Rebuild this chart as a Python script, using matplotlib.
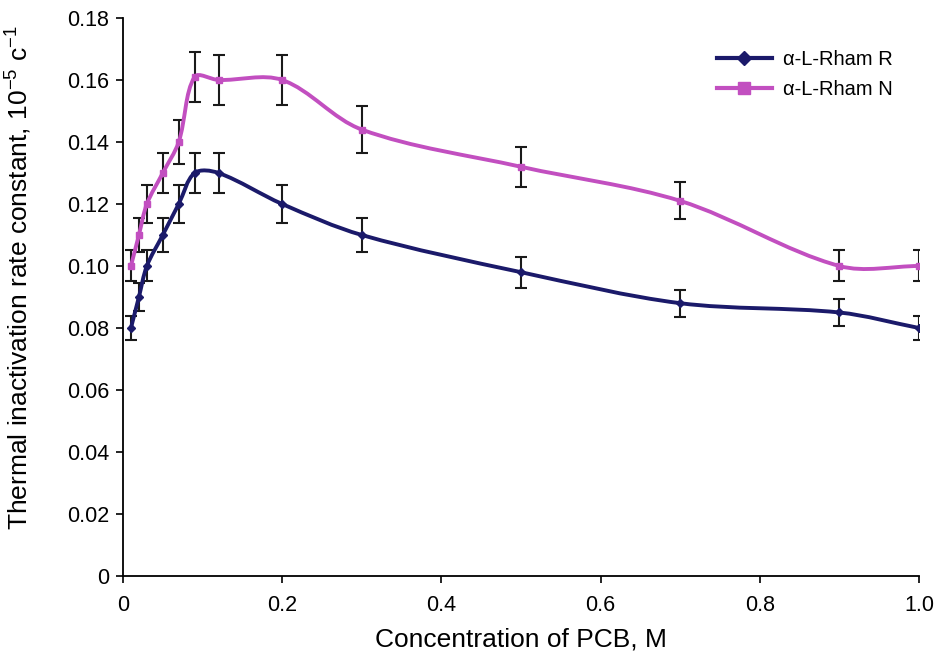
import matplotlib
matplotlib.use('Agg')
import matplotlib.pyplot as plt
from matplotlib.path import Path
from matplotlib.patches import PathPatch
from matplotlib.lines import Line2D
import numpy as np

plt.rcParams['font.family'] = ['Liberation Sans', 'DejaVu Sans']
plt.rcParams['mathtext.default'] = 'regular'

conc = [0.01, 0.02, 0.03, 0.05, 0.07, 0.09, 0.12, 0.2, 0.3, 0.5, 0.7, 0.9, 1.0]
rham_r = [0.080, 0.090, 0.100, 0.110, 0.120, 0.130, 0.130, 0.120, 0.110, 0.098, 0.088, 0.085, 0.080]
rham_r_err = [0.004, 0.0045, 0.005, 0.0055, 0.006, 0.0065, 0.0065, 0.006, 0.0055, 0.005, 0.0044, 0.0043, 0.004]
rham_n = [0.100, 0.110, 0.120, 0.130, 0.140, 0.161, 0.160, 0.160, 0.144, 0.132, 0.121, 0.100, 0.100]
rham_n_err = [0.005, 0.0055, 0.006, 0.0065, 0.007, 0.008, 0.008, 0.008, 0.0075, 0.0065, 0.006, 0.005, 0.005]

x_ticks = [0, 0.2, 0.4, 0.6, 0.8, 1.0]
x_tick_labels = ['0', '0.2', '0.4', '0.6', '0.8', '1.0']
y_ticks = [0, 0.02, 0.04, 0.06, 0.08, 0.10, 0.12, 0.14, 0.16, 0.18]
y_tick_labels = ['0', '0.02', '0.04', '0.06', '0.08', '0.10', '0.12', '0.14', '0.16', '0.18']

BLUE = '#1b1a6a'
PINK = '#c24fc0'


def smooth_path(x, y, sx=797.0, sy=3100.0):
    # smoothed line: chord-length catmull-rom turned into cubic beziers,
    # chords measured in screen-like units so short steps don't overshoot
    pts = np.column_stack([np.asarray(x) * sx, np.asarray(y) * sy])
    n = len(pts)
    verts = [pts[0]]
    codes = [Path.MOVETO]
    for i in range(n - 1):
        p0 = pts[max(i - 1, 0)]
        p1 = pts[i]
        p2 = pts[i + 1]
        p3 = pts[min(i + 2, n - 1)]
        d0 = np.hypot(*(p1 - p0))
        d1 = np.hypot(*(p2 - p1))
        d2 = np.hypot(*(p3 - p2))
        c1 = p1 + (p2 - p0) * d1 / (3.0 * (d0 + d1))
        c2 = p2 - (p3 - p1) * d1 / (3.0 * (d1 + d2))
        verts += [c1, c2, p2]
        codes += [Path.CURVE4] * 3
    verts = np.array(verts) / [sx, sy]
    return Path(verts, codes)


fig = plt.figure(figsize=(9.41, 6.61), dpi=100)
ax = fig.add_axes([0.1307, 0.1286, 0.8459, 0.8442])

for yv, err, color, marker, ms in [(rham_r, rham_r_err, BLUE, 'D', 4),
                                   (rham_n, rham_n_err, PINK, 's', 5)]:
    ax.errorbar(conc, yv, yerr=err, fmt='none', ecolor='#1a1a1a',
                elinewidth=1.5, capsize=4, capthick=1.5, zorder=2)
    ax.add_patch(PathPatch(smooth_path(conc, yv), facecolor='none',
                           edgecolor=color, lw=2.8, zorder=3))
    ax.plot(conc, yv, linestyle='none', marker=marker, ms=ms, color=color, zorder=4)

ax.set_xlim(0, 1.0)
ax.set_ylim(0, 0.18)
ax.set_xticks(x_ticks)
ax.set_xticklabels(x_tick_labels)
ax.set_yticks(y_ticks)
ax.set_yticklabels(y_tick_labels)
ax.tick_params(direction='out', length=5, width=1.2, labelsize=15.5)
ax.tick_params(axis='x', pad=9)
ax.tick_params(axis='y', pad=5)
for side in ['top', 'right']:
    ax.spines[side].set_visible(False)
for side in ['left', 'bottom']:
    ax.spines[side].set_linewidth(1.3)

ax.set_xlabel('Concentration of PCB, M', fontsize=19, labelpad=8)
ax.set_ylabel('Thermal inactivation rate constant, 10$^{-5}$ c$^{-1}$', fontsize=19)
ax.yaxis.set_label_coords(-0.112, 0.534)

handles = [Line2D([], [], color=BLUE, lw=3, marker='D', ms=7),
           Line2D([], [], color=PINK, lw=3, marker='s', ms=8)]
ax.legend(handles, ['α-L-Rham R', 'α-L-Rham N'], loc='upper right',
          bbox_to_anchor=(0.99, 0.975), frameon=False, fontsize=14.5,
          handlelength=2.75, labelspacing=0.55, handletextpad=0.55)

fig.savefig('out.png', dpi=100)
